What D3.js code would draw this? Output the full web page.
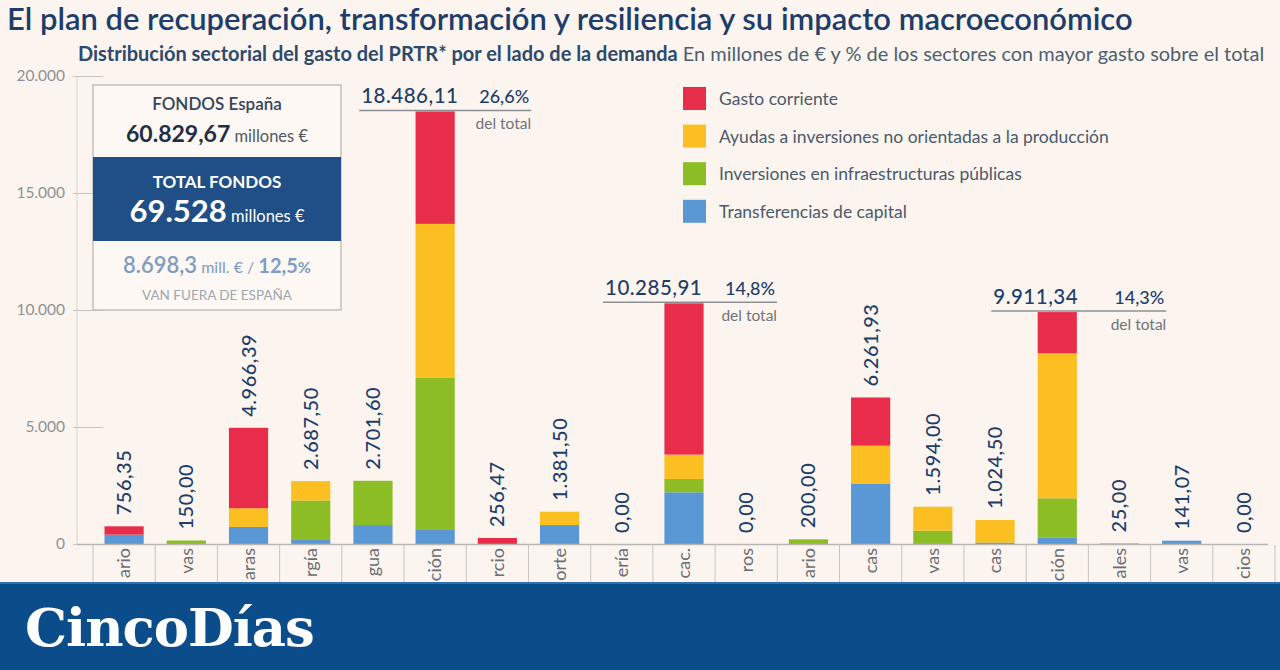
<!DOCTYPE html>
<html><head><meta charset="utf-8">
<script src="https://cdn.jsdelivr.net/npm/d3@7"></script>
<style>body{margin:0;background:#fcf5ef;} svg{display:block}</style>
</head><body><svg id="c" width="1280" height="670"></svg>
<script>
// ---------------- DATA ----------------
const categories = ["Sector primario", "Industrias extractivas", "Industrias manufactureras", "Energía", "Agua",
  "Construcción", "Comercio", "Transporte", "Hostelería", "Información y comunicac.", "Finanzas y seguros",
  "Sector inmobiliario", "Actividades científicas y técnicas", "Actividades administrativas",
  "Administraciones públicas", "Educación", "Sanidad y servicios sociales", "Actividades artísticas y recreativas",
  "Otros servicios"];
// visible part of each category label (the rest is hidden behind the footer band in the original)
const categoryTickLabels = ["ario", "vas", "aras", "rgía", "gua", "ción", "rcio", "orte", "ería", "cac.", "ros",
  "ario", "cas", "vas", "cas", "ción", "ales", "vas", "cios"];
const gastoCorriente    = [356.35, 0, 3436.39, 0, 0, 4806.11, 256.47, 0, 0, 6465.91, 0, 0, 2060.93, 0, 0, 1761.34, 0, 0, 0];
const ayudasInversiones = [0, 0, 800, 827.5, 0, 6580, 0, 571.5, 0, 1040, 0, 0, 1637, 1024, 964.5, 6197, 0, 0, 0];
const infraestructuras  = [0, 150, 0, 1690, 1891.6, 6500, 0, 0, 0, 570, 0, 200, 0, 570, 0, 1667, 25, 0, 0];
const transferencias    = [400, 0, 730, 170, 810, 600, 0, 810, 0, 2210, 0, 0, 2564, 0, 60, 286, 0, 141.07, 0];
const totalLabels = ["756,35", "150,00", "4.966,39", "2.687,50", "2.701,60", "18.486,11", "256,47", "1.381,50", "0,00",
  "10.285,91", "0,00", "200,00", "6.261,93", "1.594,00", "1.024,50", "9.911,34", "25,00", "141,07", "0,00"];
const highlightIndex = [5, 9, 15];
const highlightPct = ["26,6%", "14,8%", "14,3%"];
const seriesNames = ["Gasto corriente", "Ayudas a inversiones no orientadas a la producción",
  "Inversiones en infraestructuras públicas", "Transferencias de capital"];
const yTicks = [0, 5000, 10000, 15000, 20000];
const yTickLabels = ["0", "5.000", "10.000", "15.000", "20.000"];

// ---------------- LAYOUT / STYLE ----------------
const colors = {gasto: "#e82d4b", ayudas: "#fbbf22", infra: "#8cbd24", transf: "#5a97d5"};
const navy = "#1e3d6b";
const font = "Lato, 'Open Sans', sans-serif";
const svg = d3.select("#c");
const baseY = 544, topY = 76;

svg.append("rect").attr("width", 1280).attr("height", 670).attr("fill", "#fcf5ef");

function fitWidth(sel, w) {
  const bw = sel.node().getBBox().width;
  const fs = parseFloat(sel.attr("font-size"));
  sel.attr("font-size", fs * w / bw);
}

// Title
const title = svg.append("text").attr("x", 7).attr("y", 30).attr("font-family", font)
  .attr("font-size", 27).attr("font-weight", 600).attr("fill", navy)
  .text("El plan de recuperación, transformación y resiliencia y su impacto macroeconómico");
fitWidth(title, 1126);

const sub = svg.append("text").attr("x", 78).attr("y", 61).attr("font-family", font)
  .attr("font-size", 16).attr("fill", "#2d4a6e");
sub.append("tspan").attr("font-weight", 700).text("Distribución sectorial del gasto del PRTR* por el lado de la demanda");
sub.append("tspan").attr("fill", "#4f5e72").text(" En millones de € y % de los sectores con mayor gasto sobre el total");
fitWidth(sub, 1187);

// Scales
const y = d3.scaleLinear().domain([0, 20000]).range([baseY, topY]);
const x = d3.scaleBand().domain(categories).range([93, 1275]).paddingInner(0.37).paddingOuter(0.185);
const step = x.step();

// Y axis
const yAxis = d3.axisLeft(y).tickValues(yTicks).tickFormat((d, i) => yTickLabels[i]).tickSize(0).tickPadding(12);
const gy = svg.append("g").attr("transform", "translate(77,0)").call(yAxis);
gy.select(".domain").attr("stroke", "#d6d0cb").attr("d", `M0,${topY}V${baseY}`);
gy.selectAll(".tick text").attr("font-family", font).attr("font-size", 15.5).attr("fill", "#8f9196");
gy.selectAll(".tick").append("line").attr("x1", -4).attr("x2", 26).attr("stroke", "#c9c4bf");

// Info box
const bx = 93, bw = 248;
svg.append("rect").attr("x", bx).attr("y", 85).attr("width", bw).attr("height", 225)
  .attr("fill", "#fdf8f3").attr("stroke", "#c4c0bc").attr("stroke-width", 1.5);
svg.append("rect").attr("x", bx).attr("y", 157).attr("width", bw).attr("height", 84).attr("fill", "#1f4f86");
const cx0 = bx + bw / 2;
svg.append("text").attr("x", cx0).attr("y", 110).attr("text-anchor", "middle").attr("font-family", font)
  .attr("font-size", 17).attr("font-weight", 600).attr("fill", "#34465c").text("FONDOS España");
const t2 = svg.append("text").attr("x", cx0).attr("y", 142).attr("text-anchor", "middle").attr("font-family", font).attr("fill", "#1f2f45");
t2.append("tspan").attr("font-size", 23).attr("font-weight", 700).text("60.829,67");
t2.append("tspan").attr("font-size", 16.5).attr("fill", "#4e5866").text(" millones €");
svg.append("text").attr("x", cx0).attr("y", 188).attr("text-anchor", "middle").attr("font-family", font)
  .attr("font-size", 17).attr("font-weight", 700).attr("fill", "#fff").text("TOTAL FONDOS");
const t3 = svg.append("text").attr("x", cx0).attr("y", 222).attr("text-anchor", "middle").attr("font-family", font).attr("fill", "#fff");
t3.append("tspan").attr("font-size", 31).attr("font-weight", 700).text("69.528");
t3.append("tspan").attr("font-size", 16.5).text(" millones €");
const t4 = svg.append("text").attr("x", cx0).attr("y", 273).attr("text-anchor", "middle").attr("font-family", font).attr("fill", "#7f9cc2");
t4.append("tspan").attr("font-size", 22).attr("font-weight", 600).text("8.698,3");
t4.append("tspan").attr("font-size", 16).text(" mill. € / ");
t4.append("tspan").attr("font-size", 20).attr("font-weight", 700).text("12,5");
t4.append("tspan").attr("font-size", 16).attr("font-weight", 700).text("%");
svg.append("text").attr("x", cx0).attr("y", 300).attr("text-anchor", "middle").attr("font-family", font)
  .attr("font-size", 13.5).attr("fill", "#a0a6ae").text("VAN FUERA DE ESPAÑA");

// Legend
const legColors = [colors.gasto, colors.ayudas, colors.infra, colors.transf];
const leg = svg.append("g");
seriesNames.forEach((n, i) => {
  const yy = 87 + i * 37.6;
  leg.append("rect").attr("x", 683).attr("y", yy).attr("width", 23).attr("height", 23).attr("fill", legColors[i]);
  leg.append("text").attr("x", 719).attr("y", yy + 18).attr("font-family", font).attr("font-size", 17.5)
    .attr("fill", "#4b5a6c").text(n);
});

// Stacked bars
const rows = categories.map((c, i) => ({cat: c, transf: transferencias[i], infra: infraestructuras[i],
  ayudas: ayudasInversiones[i], gasto: gastoCorriente[i]}));
const keys = ["transf", "infra", "ayudas", "gasto"];
const stacked = d3.stack().keys(keys)(rows);
svg.append("g").selectAll("g").data(stacked).join("g").attr("fill", d => colors[d.key])
  .selectAll("rect").data(d => d).join("rect")
  .attr("x", d => x(d.data.cat)).attr("width", x.bandwidth())
  .attr("y", d => y(d[1])).attr("height", d => Math.max(0, y(d[0]) - y(d[1])));

// Baseline and category separators
svg.append("line").attr("x1", 77).attr("x2", 1268).attr("y1", baseY + 0.5).attr("y2", baseY + 0.5)
  .attr("stroke", "#b9b6b3").attr("stroke-width", 1.5);
const bounds = categories.map(c => x(c) + x.bandwidth() / 2 - step / 2);
bounds.push(x(categories[categories.length - 1]) + x.bandwidth() / 2 + step / 2);
svg.append("g").selectAll("line").data(bounds).join("line")
  .attr("x1", d => d).attr("x2", d => d).attr("y1", baseY + 1).attr("y2", 582)
  .attr("stroke", "#c8c4c0");

// Category labels (visible fragments)
svg.append("g").selectAll("text").data(categories).join("text")
  .attr("transform", d => `translate(${x(d) + x.bandwidth() / 2},${baseY + 4}) rotate(-90)`)
  .attr("text-anchor", "end").attr("dy", "0.35em").attr("font-family", font).attr("font-size", 18)
  .attr("fill", "#6b6e73").text((d, i) => categoryTickLabels[i]);

// Value labels (rotated)
const totals = rows.map(r => r.transf + r.infra + r.ayudas + r.gasto);
svg.append("g").selectAll("text").data(categories.filter((c, i) => !highlightIndex.includes(i))).join("text")
  .attr("transform", d => {
    const i = categories.indexOf(d);
    return `translate(${x(d) + x.bandwidth() / 2},${y(totals[i]) - 11}) rotate(-90)`;
  })
  .attr("dy", "0.35em").attr("font-family", font).attr("font-size", 20).attr("font-weight", 500)
  .attr("fill", navy).attr("letter-spacing", 0.5)
  .text(d => totalLabels[categories.indexOf(d)]);

// Highlight annotations
const annOffsets = [{l: -76, r: 96}, {l: -81, r: 93}, {l: -66, r: 109}];
highlightIndex.forEach((idx, k) => {
  const c = categories[idx];
  const cx = x(c) + x.bandwidth() / 2;
  const ty = y(totals[idx]);
  const o = annOffsets[k];
  svg.append("line").attr("x1", cx + o.l).attr("x2", cx + o.r).attr("y1", ty - 1).attr("y2", ty - 1)
    .attr("stroke", "#8b8f95").attr("stroke-width", 1.5);
  svg.append("text").attr("x", cx + o.l + 2).attr("y", ty - 8).attr("font-family", font).attr("font-size", 20.5)
    .attr("font-weight", 500).attr("fill", navy).attr("letter-spacing", 0.5).text(totalLabels[idx]);
  svg.append("text").attr("x", cx + o.r - 2).attr("y", ty - 8).attr("text-anchor", "end").attr("font-family", font)
    .attr("font-size", 18).attr("font-weight", 500).attr("fill", navy).text(highlightPct[k]);
  svg.append("text").attr("x", cx + o.r).attr("y", ty + 18).attr("text-anchor", "end").attr("font-family", font)
    .attr("font-size", 15.5).attr("fill", "#6f7379").text("del total");
});

// Footer
svg.append("rect").attr("x", 0).attr("y", 582).attr("width", 1280).attr("height", 88).attr("fill", "#0b4d8a");
svg.append("rect").attr("x", 0).attr("y", 582).attr("width", 1280).attr("height", 2).attr("fill", "#2e70ad");
const logo = svg.append("text").attr("x", 25).attr("y", 646).attr("font-family", "'DejaVu Serif', serif")
  .attr("font-size", 48).attr("font-weight", 700).attr("fill", "#fff").attr("letter-spacing", -1).text("CincoDías");
fitWidth(logo, 288);
</script></body></html>
